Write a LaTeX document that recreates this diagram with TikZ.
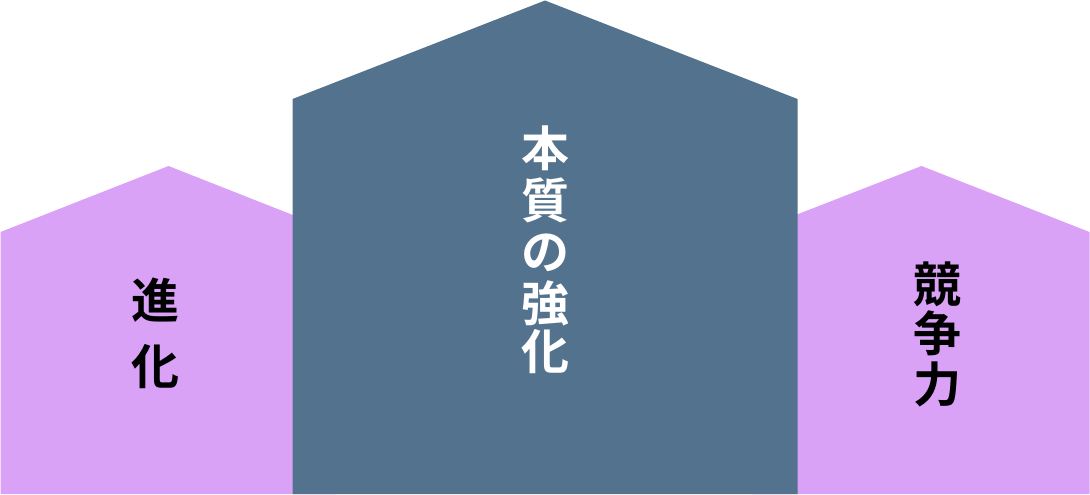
\documentclass[tikz,border=0pt]{standalone}
\usepackage{fontspec}
\newfontfamily\jpbold{Noto Sans CJK JP Bold}
\definecolor{lilac}{HTML}{D9A2F7}
\definecolor{slate}{HTML}{53728D}
\tikzset{
  side/.style={fill=lilac, draw=none},
  mid/.style={fill=slate, draw=none},
  glyph/.style={inner sep=0pt, font=\jpbold\fontsize{48pt}{48pt}\selectfont, text height=42.24pt, text depth=5.76pt},
  darkglyph/.style={glyph, text=black},
  lightglyph/.style={glyph, text=white},
}
\begin{document}
\begin{tikzpicture}[x=1pt,y=-1pt]
\useasboundingbox (0,0) rectangle (1090,495);
% side houses
\fill[side] (0.5,232) -- (168.5,166) -- (336,232) -- (336,494) -- (0.5,494) -- cycle;
\fill[side] (752,232) -- (921.5,166) -- (1089.5,232) -- (1089.5,494) -- (752,494) -- cycle;
% centre house
\fill[mid] (292.5,99) -- (545,0.5) -- (797.5,99) -- (797.5,494) -- (292.5,494) -- cycle;
% centre text
\node[lightglyph] (c1) at (545,148) {本};
\node[lightglyph] (c2) at (545,200) {質};
\node[lightglyph] (c3) at (545,251) {の};
\node[lightglyph] (c4) at (545,303) {強};
\node[lightglyph] (c5) at (545,351) {化};
% left text
\node[darkglyph] (l1) at (155,300) {進};
\node[darkglyph] (l2) at (155,366) {化};
% right text
\node[darkglyph] (r1) at (937,284) {競};
\node[darkglyph] (r2) at (937,333) {争};
\node[darkglyph] (r3) at (937,384) {力};
\end{tikzpicture}
\end{document}
